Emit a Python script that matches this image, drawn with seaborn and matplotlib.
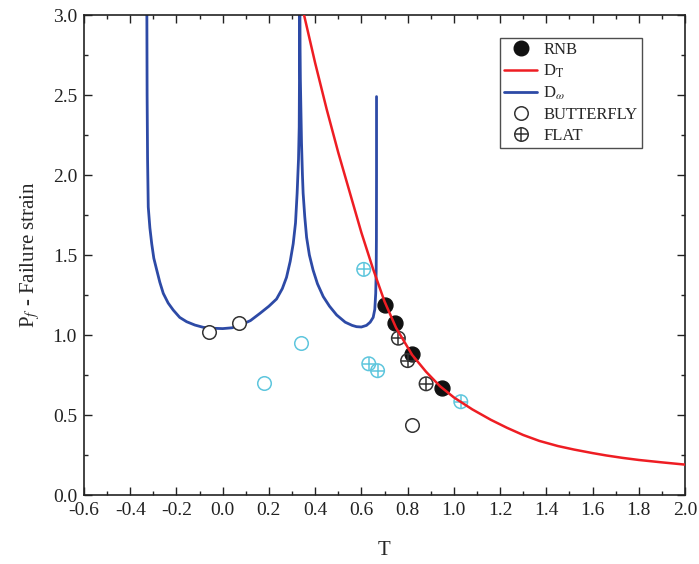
import numpy as np
import pandas as pd
import matplotlib
matplotlib.use("Agg")
import matplotlib.pyplot as plt
import seaborn as sns
from matplotlib.lines import Line2D
from matplotlib.legend_handler import HandlerTuple
from matplotlib.ticker import MultipleLocator, FormatStrFormatter

# ---------------- data ----------------
rnb_T = [0.70, 0.745, 0.82, 0.95]
rnb_P = [1.19, 1.075, 0.88, 0.67]

butterfly_black_T = [-0.06, 0.07, 0.82]
butterfly_black_P = [1.02, 1.075, 0.44]
butterfly_cyan_T = [0.18, 0.34]
butterfly_cyan_P = [0.70, 0.95]

flat_black_T = [0.76, 0.80, 0.88]
flat_black_P = [0.98, 0.84, 0.695]
flat_cyan_T = [0.61, 0.632, 0.67, 1.03]
flat_cyan_P = [1.41, 0.82, 0.777, 0.583]

# D_T curve (red)
dT_T = [0.352, 0.40, 0.45, 0.50, 0.55, 0.60, 0.65, 0.70, 0.75, 0.82,
        0.88, 0.94, 1.00, 1.08, 1.16, 1.23, 1.30, 1.37, 1.45, 1.52,
        1.60, 1.66, 1.73, 1.80, 1.90, 2.00]
dT_P = [3.00, 2.70, 2.41, 2.14, 1.89, 1.64, 1.415, 1.21, 1.045, 0.875,
        0.77, 0.68, 0.61, 0.535, 0.47, 0.42, 0.375, 0.338, 0.306, 0.284,
        0.262, 0.247, 0.232, 0.219, 0.204, 0.19]

# D_omega curve (blue)
dw_T = [-0.328, -0.327, -0.325, -0.322, -0.315, -0.307, -0.298, -0.286,
        -0.272, -0.257, -0.236, -0.214, -0.186, -0.156, -0.12, -0.084,
        -0.04, 0.00, 0.04, 0.074, 0.12, 0.161, 0.20, 0.233, 0.258, 0.276,
        0.292, 0.305, 0.315, 0.322, 0.328, 0.331, 0.3335,
        0.336, 0.341, 0.345, 0.348, 0.355, 0.363, 0.375, 0.391, 0.41,
        0.435, 0.462, 0.493, 0.53, 0.56, 0.579, 0.60, 0.622, 0.638,
        0.651, 0.658, 0.662, 0.664, 0.665, 0.6655, 0.6655]
dw_P = [3.00, 2.50, 2.10, 1.80, 1.67, 1.57, 1.48, 1.41,
        1.33, 1.26, 1.20, 1.156, 1.11, 1.083, 1.062, 1.048,
        1.042, 1.040, 1.045, 1.06, 1.09, 1.135, 1.18, 1.225, 1.29, 1.36,
        1.46, 1.57, 1.70, 1.886, 2.10, 2.30, 3.00,
        2.60, 2.20, 2.00, 1.886, 1.74, 1.61, 1.50, 1.406, 1.32,
        1.24, 1.18, 1.125, 1.08, 1.06, 1.052, 1.05, 1.06, 1.08,
        1.11, 1.16, 1.26, 1.40, 1.60, 2.00, 2.49]

legend_labels = ["RNB", r"D$_{\mathrm{T}}$", r"D$_{\omega}$", "BUTTERFLY", "FLAT"]

# ---------------- style ----------------
sns.set_theme(style="ticks")
plt.rcParams["font.family"] = ["Liberation Serif", "DejaVu Serif"]
plt.rcParams["mathtext.fontset"] = "stix"

red = "#ee1d23"
blue = "#2d4aa6"
cyan = "#5ec6dd"
dark = "#333333"

fig = plt.figure(figsize=(6.99, 5.64), dpi=100)
ax = fig.add_axes([84/699, (564-495)/564, (685-84)/699, (495-15)/564])

ms_open = 95
ms_fill = 115

# blue curve (below markers)
sns.lineplot(x=dw_T, y=dw_P, sort=False, estimator=None, color=blue,
             lw=2.0, ax=ax, zorder=2)

# markers
sns.scatterplot(x=rnb_T, y=rnb_P, marker="o", s=ms_fill, color="#111111",
                edgecolor="#111111", linewidth=1.0, ax=ax, zorder=3)
sns.scatterplot(x=butterfly_black_T, y=butterfly_black_P, marker="o", s=ms_open,
                facecolor="white", edgecolor=dark, linewidth=1.1, ax=ax, zorder=3)
sns.scatterplot(x=butterfly_cyan_T, y=butterfly_cyan_P, marker="o", s=ms_open,
                facecolor="white", edgecolor=cyan, linewidth=1.1, ax=ax, zorder=3)
for tt, pp, cc in [(flat_black_T, flat_black_P, dark), (flat_cyan_T, flat_cyan_P, cyan)]:
    sns.scatterplot(x=tt, y=pp, marker="o", s=ms_open, facecolor="none",
                    edgecolor=cc, linewidth=1.1, ax=ax, zorder=3)
    sns.scatterplot(x=tt, y=pp, marker="+", s=ms_open, color=cc,
                    linewidth=1.1, ax=ax, zorder=3)

# red curve (on top)
sns.lineplot(x=dT_T, y=dT_P, sort=False, estimator=None, color=red,
             lw=1.8, ax=ax, zorder=4)

ax.set_xlim(-0.6, 2.0)
ax.set_ylim(0.0, 3.0)
ax.xaxis.set_major_locator(MultipleLocator(0.2))
ax.xaxis.set_minor_locator(MultipleLocator(0.1))
ax.yaxis.set_major_locator(MultipleLocator(0.5))
ax.yaxis.set_minor_locator(MultipleLocator(0.25))
ax.xaxis.set_major_formatter(FormatStrFormatter("%.1f"))
ax.yaxis.set_major_formatter(FormatStrFormatter("%.1f"))
ax.tick_params(which="both", direction="in", top=True, right=True,
               labeltop=False, labelright=False, colors="#222222", width=1.0)
ax.tick_params(which="major", length=6, labelsize=14, pad=5)
ax.tick_params(which="minor", length=3)
for sp in ax.spines.values():
    sp.set_linewidth(1.2)
    sp.set_color("#222222")

ax.set_xlabel("T", fontsize=15, labelpad=16)
ax.set_ylabel(r"P$_{f}$ - Failure strain", fontsize=15, labelpad=8)

# legend
h_rnb = Line2D([], [], ls="none", marker="o", ms=10.5, mfc="#111111", mec="#111111")
h_dt = Line2D([], [], color=red, lw=1.8)
h_dw = Line2D([], [], color=blue, lw=2.0)
h_bf = Line2D([], [], ls="none", marker="o", ms=9.7, mfc="white", mec=dark, mew=1.1)
h_fl1 = Line2D([], [], ls="none", marker="o", ms=9.7, mfc="none", mec=dark, mew=1.1)
h_fl2 = Line2D([], [], ls="none", marker="+", ms=9.7, color=dark, mew=1.1)
leg = ax.legend([h_rnb, h_dt, h_dw, h_bf, (h_fl1, h_fl2)], legend_labels,
                handler_map={tuple: HandlerTuple(ndivide=1)},
                loc="upper right", bbox_to_anchor=(0.928, 0.952),
                borderaxespad=0, fontsize=12, frameon=True, fancybox=False,
                edgecolor="#222222", handlelength=2.0, handletextpad=0.35,
                labelspacing=0.28, borderpad=0.25)
leg.get_frame().set_linewidth(1.0)

fig.savefig("out.png", dpi=100)
